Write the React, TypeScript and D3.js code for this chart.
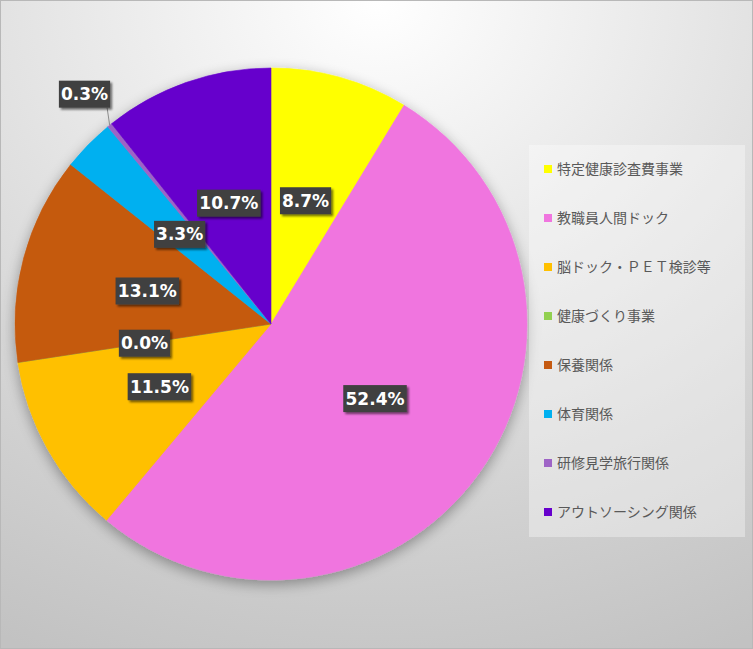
import * as d3 from 'd3';
import React from 'react';

const categories = [
  '特定健康診査費事業',
  '教職員人間ドック',
  '脳ドック・ＰＥＴ検診等',
  '健康づくり事業',
  '保養関係',
  '体育関係',
  '研修見学旅行関係',
  'アウトソーシング関係',
];
const shares = [8.7, 52.4, 11.5, 0.0, 13.1, 3.3, 0.3, 10.7];
const colors = ['#ffff00', '#f075df', '#ffc000', '#92d050', '#c55a11', '#00b0f0', '#9e64c6', '#6600cc'];
const outsideLabels = ['研修見学旅行関係'];

const W = 753;
const H = 649;
const cx = 271;
const cy = 324;
const radius = 256;

const App: React.FC = () => {
  const pie = d3.pie<number>().sort(null).value((d) => d);
  const arcs = pie(shares);
  const arc = d3.arc<d3.PieArcDatum<number>>().innerRadius(0).outerRadius(radius);
  const mid = (a: d3.PieArcDatum<number>) => (a.startAngle + a.endAngle) / 2;
  const polar = (ang: number, r: number): [number, number] => [Math.sin(ang) * r, -Math.cos(ang) * r];

  const legendY = d3.scalePoint<string>().domain(categories).range([169, 512]);

  const labelFont = '"DejaVu Sans", "Noto Sans", sans-serif';
  const boxH = 27;

  return (
    <svg width={W} height={H} style={{ position: 'absolute', left: 0, top: 0 }}>
      <defs>
        <radialGradient id="bg" cx="50%" cy="0%" r="110%" fx="50%" fy="0%">
          <stop offset="0" stopColor="#ffffff" />
          <stop offset="0.75" stopColor="#d0d0d0" />
          <stop offset="1" stopColor="#c2c2c2" />
        </radialGradient>
        <filter id="pieShadow" x="-20%" y="-20%" width="140%" height="140%">
          <feGaussianBlur in="SourceAlpha" stdDeviation="7" />
          <feOffset dx="0" dy="4" result="b" />
          <feComponentTransfer>
            <feFuncA type="linear" slope="0.35" />
          </feComponentTransfer>
          <feMerge>
            <feMergeNode />
            <feMergeNode in="SourceGraphic" />
          </feMerge>
        </filter>
        <filter id="boxShadow" x="-20%" y="-30%" width="150%" height="170%">
          <feGaussianBlur in="SourceAlpha" stdDeviation="1.2" />
          <feOffset dx="2" dy="2" />
          <feComponentTransfer>
            <feFuncA type="linear" slope="0.55" />
          </feComponentTransfer>
          <feMerge>
            <feMergeNode />
            <feMergeNode in="SourceGraphic" />
          </feMerge>
        </filter>
      </defs>
      <rect x={0.5} y={0.5} width={W - 1} height={H - 1} fill="url(#bg)" stroke="#b8b8b8" />

      <g transform={`translate(${cx},${cy})`}>
        <g filter="url(#pieShadow)">
          {arcs.map((a, i) => (
            <path key={i} d={arc(a) || ''} fill={colors[i]} stroke={colors[i]} strokeWidth={0.6} />
          ))}
        </g>
        {arcs.map((a, i) => {
          const text = `${shares[i].toFixed(1)}%`;
          const outside = outsideLabels.includes(categories[i]);
          const [lx, ly] = polar(mid(a), outside ? radius + 40 : radius / 2);
          const w = text.length * 12.3 + 2;
          const bx = lx - w / 2;
          const by = ly - boxH / 2;
          const [ex, ey] = polar(mid(a), radius);
          return (
            <g key={i}>
              {outside && (
                <line x1={ex} y1={ey} x2={bx + w - 3} y2={by + boxH} stroke="#8c8c8c" strokeWidth={1} />
              )}
              <rect x={bx} y={by} width={w} height={boxH} fill="#404040" filter="url(#boxShadow)" />
              <text
                x={lx}
                y={ly + 6}
                textAnchor="middle"
                fill="#ffffff"
                fontFamily={labelFont}
                fontWeight="bold"
                fontSize={17}
              >
                {text}
              </text>
            </g>
          );
        })}
      </g>

      <rect x={529} y={145} width={216} height={392} fill="#ffffff" fillOpacity={0.35} />
      {categories.map((c, i) => {
        const y = legendY(c) as number;
        return (
          <g key={c}>
            <rect x={544} y={y - 4} width={8} height={8} fill={colors[i]} />
            <text
              x={557}
              y={y + 5}
              fill="#595959"
              fontSize={14}
              fontFamily='"Noto Sans CJK JP", sans-serif'
            >
              {c}
            </text>
          </g>
        );
      })}
    </svg>
  );
};

export default App;
